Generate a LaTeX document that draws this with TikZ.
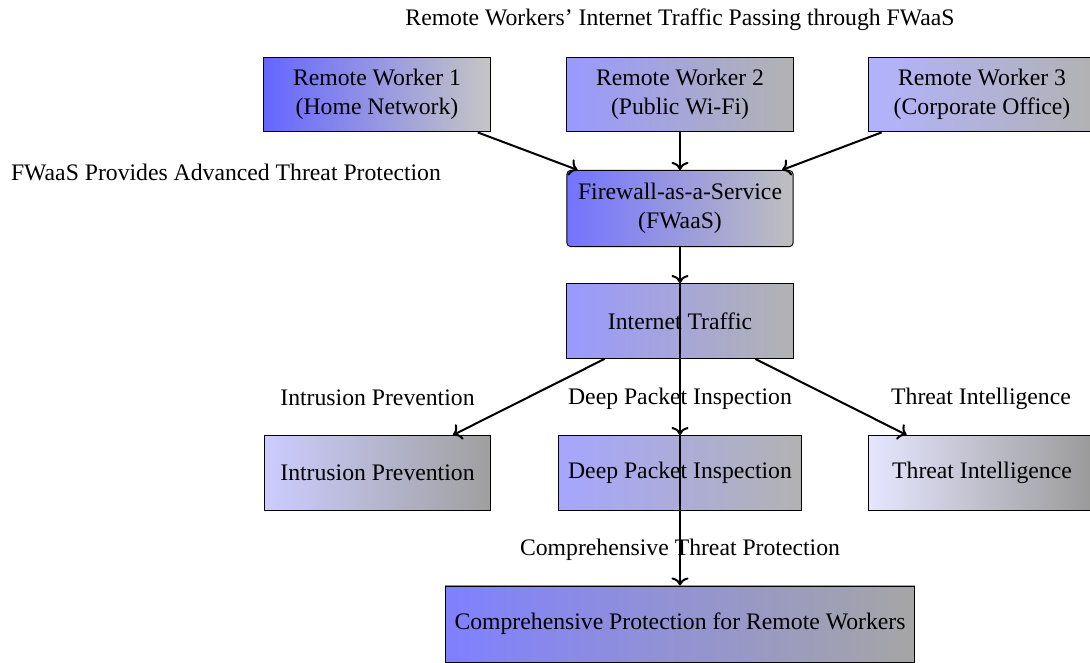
\documentclass[tikz,border=0pt]{standalone}
\usepackage{fontspec}
\setmainfont{Liberation Serif}
\usetikzlibrary{arrows.meta}
\begin{document}
\begin{tikzpicture}[x=0.42194pt, y=-0.42194pt,
  box/.style={draw=black, rectangle, align=center, inner sep=4pt,
              minimum width=95.4pt, minimum height=31.6pt},
  lbl/.style={inner sep=0pt, align=center},
  link/.style={-{To[length=3.4pt, width=7.2pt]}, line width=0.85pt}]
  \useasboundingbox (0,0) rectangle (1090,662);

  % headings
  \node[lbl] (title) at (680,20) {Remote Workers’ Internet Traffic Passing through FWaaS};
  \node[lbl] (fwnote) at (226,172) {FWaaS Provides Advanced Threat Protection};

  % remote workers
  \node[box, left color=blue!60, right color=gray!45] (rw1) at (377,94.5) {Remote Worker 1\\(Home Network)};
  \node[box, left color=blue!40, right color=gray!60] (rw2) at (680,94.5) {Remote Worker 2\\(Public Wi-Fi)};
  \node[box, left color=blue!30, right color=gray!60] (rw3) at (982,94.5) {Remote Worker 3\\(Corporate Office)};

  % firewall and traffic
  \node[box, rounded corners=1.5pt, minimum height=32.1pt, left color=blue!55, right color=gray!50] (fw) at (680,208.5) {Firewall-as-a-Service\\(FWaaS)};
  \node[box, left color=blue!40, right color=gray!60] (traffic) at (680,321) {Internet Traffic};

  % protection features
  \node[box, left color=blue!20, right color=gray!75] (ips) at (377.5,473) {Intrusion Prevention};
  \node[box, left color=blue!35, right color=gray!60] (dpi) at (680,473) {Deep Packet Inspection};
  \node[box, left color=blue!10, right color=gray!80] (ti) at (982,473) {Threat Intelligence};

  % result
  \node[box, minimum height=32.1pt, left color=blue!50, right color=gray!70] (comp) at (680,624) {Comprehensive Protection for Remote Workers};

  % edge labels
  \node[lbl] (lips) at (377.5,398) {Intrusion Prevention};
  \node[lbl] (ldpi) at (680,399) {Deep Packet Inspection};
  \node[lbl] (lti) at (981,399) {Threat Intelligence};
  \node[lbl] (lcomp) at (680,550) {Comprehensive Threat Protection};

  % connectors
  \draw[link] (rw1) -- (fw);
  \draw[link] (rw2) -- (fw);
  \draw[link] (rw3) -- (fw);
  \draw[link] (fw.south) -- (traffic.north);
  \draw[link] (fw.south) -- (dpi.north);
  \draw[link] (fw.south) -- (comp.north);
  \draw[link] (traffic) -- (ips);
  \draw[link] (traffic) -- (ti);
\end{tikzpicture}
\end{document}
